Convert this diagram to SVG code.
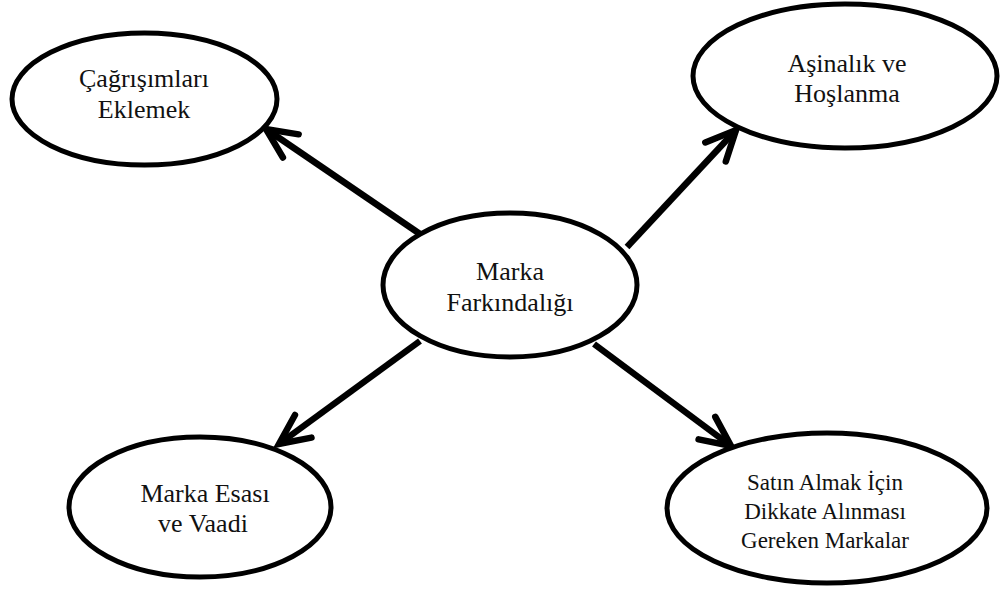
<svg xmlns="http://www.w3.org/2000/svg" width="1003" height="590" viewBox="0 0 1003 590">
  <defs>
    <style>
      .node ellipse { fill: #ffffff; stroke: #000000; stroke-width: 5; }
      .node text { font-family: "Liberation Serif", "Times New Roman", serif; font-size: 26px; fill: #111111; text-anchor: middle; }
      .node text.small { font-size: 23px; }
      .edge { stroke: #000000; stroke-width: 6.5; fill: none; marker-end: url(#chevron); }
    </style>
    <marker id="chevron" markerUnits="userSpaceOnUse" viewBox="-40 -20 46 40" refX="0" refY="0" markerWidth="46" markerHeight="40" orient="auto" overflow="visible">
      <path d="M -30 -14 L 0 0 L -30 14" fill="none" stroke="#000000" stroke-width="6.5" stroke-linecap="round" stroke-linejoin="miter"/>
    </marker>
  </defs>

  <rect width="1003" height="590" fill="#ffffff"/>

  <!-- connectors from the central node outward -->
  <g id="connectors">
    <line class="edge" x1="420" y1="234" x2="266" y2="129"/>
    <line class="edge" x1="627" y1="247" x2="736" y2="130"/>
    <line class="edge" x1="420" y1="341" x2="279" y2="444"/>
    <line class="edge" x1="594" y1="344" x2="731" y2="446"/>
  </g>

  <g id="node-cagrisimlari" class="node">
    <ellipse cx="144.5" cy="99" rx="132.5" ry="66"/>
    <text x="144" y="87">Çağrışımları</text>
    <text x="144" y="118">Eklemek</text>
  </g>

  <g id="node-asinalik" class="node">
    <ellipse cx="845" cy="76" rx="152" ry="72"/>
    <text x="847" y="72">Aşinalık ve</text>
    <text x="847" y="102">Hoşlanma</text>
  </g>

  <g id="node-farkindalik" class="node">
    <ellipse cx="510" cy="285" rx="127" ry="72"/>
    <text x="510" y="280">Marka</text>
    <text x="510" y="311">Farkındalığı</text>
  </g>

  <g id="node-esas" class="node">
    <ellipse cx="200" cy="507" rx="131" ry="70"/>
    <text x="205" y="502">Marka Esası</text>
    <text x="203" y="532">ve Vaadi</text>
  </g>

  <g id="node-markalar" class="node">
    <ellipse cx="827" cy="508" rx="160" ry="75"/>
    <text class="small" x="825" y="490">Satın Almak İçin</text>
    <text class="small" x="825" y="519">Dikkate Alınması</text>
    <text class="small" x="825" y="548">Gereken Markalar</text>
  </g>
</svg>
